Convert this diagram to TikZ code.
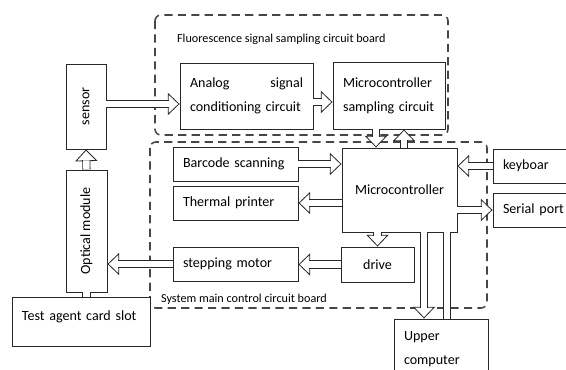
\documentclass[tikz,border=0pt]{standalone}
\usepackage{fontspec}
\setmainfont{Carlito}
\usetikzlibrary{arrows.meta}
\definecolor{colBOX}{RGB}{40,40,40}
\definecolor{colDASH}{RGB}{70,70,70}

\begin{document}
\begin{tikzpicture}[x=0.03cm, y=-0.03cm,
    every node/.style={font=\fontsize{12}{20.5}\selectfont},
    box/.style={draw=colBOX, line width=0.8pt, fill=white, inner xsep=0.3cm, inner ysep=0pt},
    board/.style={draw=colDASH, line width=1.3pt, dash pattern=on 7pt off 4.5pt, rounded corners=5pt},
    dblline/.style={draw=colBOX, line width=0.7pt, double=white, double distance=5.5pt},
    dbl/.style={draw=colBOX, line width=0.7pt,
      -{Triangle[width=19pt, length=10pt, fill=white]},
      postaction={-, dblline, shorten >=9.3pt}},
    lbl/.style={font=\fontsize{10.4}{12}\selectfont, anchor=west}]
  \useasboundingbox (0,0) rectangle (566,370);
  \clip (0,0) rectangle (566,370);
  % circuit boards
  \draw[board] (155,15) rectangle (448,135);
  \draw[board] (150,142) rectangle (487,308);
  \node[lbl] (flbl) at (173,39) {Fluorescence signal sampling circuit board};
  \node[lbl] (slbl) at (157,299) {System main control circuit board};
  % sampling board
  \node[box, text width=3.39cm, minimum height=1.98cm, align=left] (analog) at (246.5,96)
    {Analog\hspace{0pt plus 1fill}signal\\conditioning~circuit};
  \node[box, text width=2.76cm, minimum height=2.01cm, align=left] (msc) at (389,95.5)
    {Microcontroller\\sampling~circuit};
  % optics
  \node[box, minimum width=1.2cm, minimum height=2.55cm, inner sep=0pt] (sensor) at (86,106.5)
    {\rotatebox{90}{sensor}};
  \node[box, minimum width=1.23cm, minimum height=3.66cm, inner sep=0pt] (optical) at (86.5,231)
    {\rotatebox{90}{Optical module}};
  \node[box, text width=3.54cm, minimum height=1.47cm, align=left] (slot) at (81,321.5)
    {\raisebox{0.15cm}[\height][\depth]{Test agent card slot}};
  % main control board
  \node[box, text width=3.15cm, minimum height=1.02cm, align=left] (barcode) at (235.5,164) {Barcode scanning};
  \node[box, text width=3.15cm, minimum height=1.02cm, align=left] (thermal) at (235.5,203) {Thermal printer};
  \node[box, text width=3.15cm, minimum height=1.02cm, align=left] (stepper) at (235.5,264) {stepping motor};
  \node[box, minimum width=3.45cm, minimum height=2.52cm] (micro) at (399.5,190) {Microcontroller};
  \node[box, minimum width=2.19cm, minimum height=1.05cm] (drive) at (377.5,264.5) {drive};
  % peripherals
  \node[box, text width=2.61cm, minimum height=1.02cm, align=left] (keyb) at (546.5,166) {keyboar};
  \node[box, text width=2.61cm, minimum height=1.02cm, align=left] (serial) at (546.5,210) {Serial\hspace{0.35em}port};
  \node[box, text width=2.22cm, minimum height=1.83cm, align=left] (upper) at (441,349.5) {Upper\\computer};
  % signal flow
  \draw[dbl] (sensor.east |- 0,104) -- (analog.west |- 0,104);
  \draw[dbl] (analog.east |- 0,102) -- (msc.west |- 0,102);
  \draw[dbl] (msc.south -| 376,0) -- (micro.north -| 376,0);
  \draw[dbl] (micro.north -| 404,0) -- (msc.south -| 404,0);
  \draw[dbl] (barcode.east) -- (barcode.east -| micro.west);
  \draw[dbl] (micro.west |- thermal.east) -- (thermal.east);
  \draw[dbl] (keyb.west) -- (keyb.west -| micro.east);
  \draw[dbl] (micro.east |- serial.west) -- (serial.west);
  \draw[dbl] (micro.south -| drive.north) -- (drive.north);
  \draw[dbl] (drive.west) -- (drive.west -| stepper.east);
  \draw[dbl] (stepper.west) -- (stepper.west -| optical.east);
  \draw[dbl] (optical.north) -- (sensor.south);
  \draw[dbl] (micro.south -| 424,0) -- (upper.north -| 424,0);
  \draw[dblline] (micro.south -| 447,0) -- (upper.north -| 447,0);
  \draw[dblline] (optical.south) -- (optical.south |- slot.north);
\end{tikzpicture}
\end{document}
